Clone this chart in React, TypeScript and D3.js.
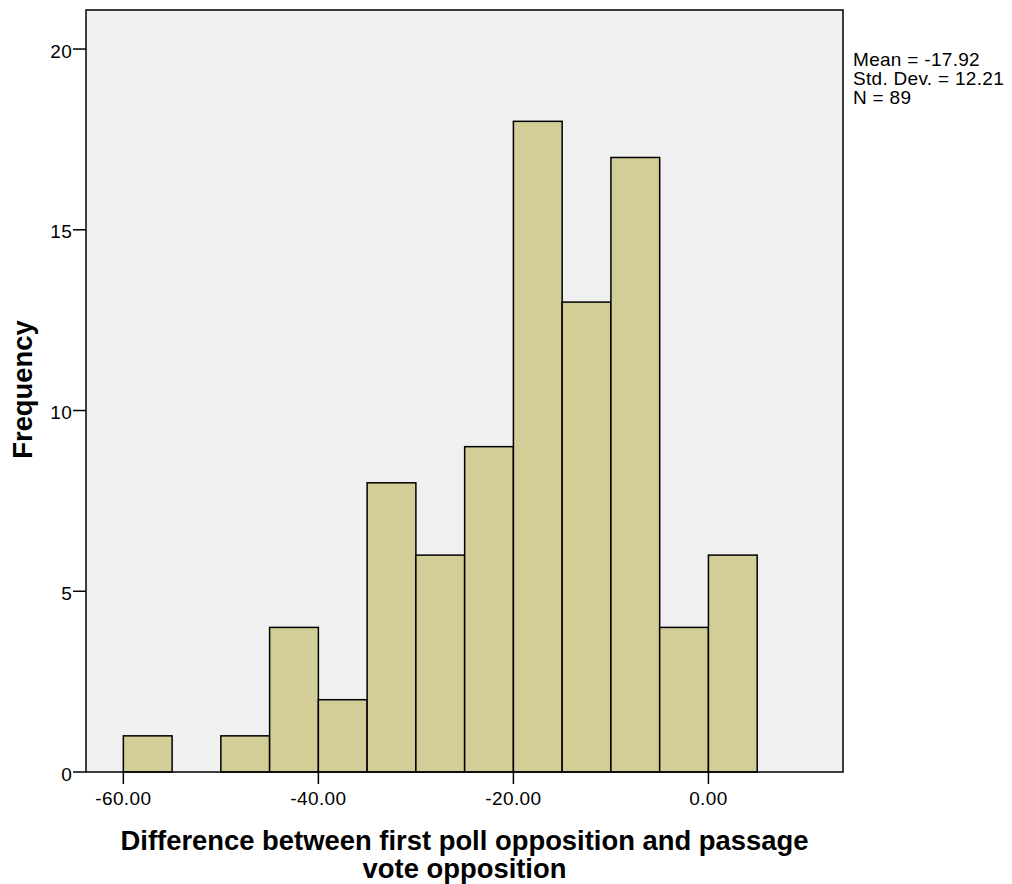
import React from 'react';
import * as d3 from 'd3';

// histogram bins: lower edge and frequency
const binStarts = [-60, -55, -50, -45, -40, -35, -30, -25, -20, -15, -10, -5, 0];
const counts = [1, 0, 1, 4, 2, 8, 6, 9, 18, 13, 17, 4, 6];
const binWidth = 5;
const xTicks = [-60, -40, -20, 0];
const yTicks = [0, 5, 10, 15, 20];
const statLines = ['Mean = -17.92', 'Std. Dev. = 12.21', 'N = 89'];
const xTitle = ['Difference between first poll opposition and passage', 'vote opposition'];
const yTitle = 'Frequency';

const width = 1012;
const height = 884;
const plot = { left: 86, top: 10, right: 843, bottom: 772 };
const font = 'Arial, "Liberation Sans", sans-serif';

export default function App() {
  const xScale = d3.scaleLinear().domain([-63.83, 13.8]).range([plot.left, plot.right]);
  const yScale = d3.scaleLinear().domain([0, 21.08]).range([plot.bottom, plot.top]);

  const bars = binStarts
    .map((b, i) => ({ x0: b, x1: b + binWidth, n: counts[i] }))
    .filter(d => d.n > 0);

  return (
    <svg width={width} height={height} style={{ display: 'block', position: 'absolute', left: 0, top: 0 }}>
      <rect x={0} y={0} width={width} height={height} fill="#fff" />
      <rect
        x={plot.left}
        y={plot.top}
        width={plot.right - plot.left}
        height={plot.bottom - plot.top}
        fill="#f0f0f0"
      />
      <g>
        {bars.map(d => (
          <rect
            key={d.x0}
            x={xScale(d.x0)}
            y={yScale(d.n)}
            width={xScale(d.x1) - xScale(d.x0)}
            height={yScale(0) - yScale(d.n)}
            fill="#d3ce98"
            stroke="#000"
            strokeWidth={1.5}
          />
        ))}
      </g>
      <rect
        x={plot.left}
        y={plot.top}
        width={plot.right - plot.left}
        height={plot.bottom - plot.top}
        fill="none"
        stroke="#000"
        strokeWidth={1.5}
      />
      {/* y axis */}
      <g fontFamily={font} fontSize={19} fill="#000">
        {yTicks.map(t => (
          <g key={t}>
            <line x1={plot.left - 13} x2={plot.left} y1={yScale(t)} y2={yScale(t)} stroke="#000" strokeWidth={1.5} />
            <text x={plot.left - 14} y={yScale(t) + 8.5} textAnchor="end" letterSpacing={0.3}>{t}</text>
          </g>
        ))}
      </g>
      {/* x axis */}
      <g fontFamily={font} fontSize={19} fill="#000">
        {xTicks.map(t => (
          <g key={t}>
            <line x1={xScale(t)} x2={xScale(t)} y1={plot.bottom} y2={plot.bottom + 12} stroke="#000" strokeWidth={1.5} />
            <text x={xScale(t)} y={805} textAnchor="middle" letterSpacing={0.4}>{t.toFixed(2)}</text>
          </g>
        ))}
      </g>
      <g fontFamily={font} fontSize={27.4} fontWeight="bold" fill="#000" textAnchor="middle">
        {xTitle.map((line, i) => (
          <text key={i} x={464.5} y={850 + i * 28}>{line}</text>
        ))}
        <text transform={`translate(32,${389.5}) rotate(-90)`}>{yTitle}</text>
      </g>
      <g fontFamily={font} fontSize={19} fill="#000">
        {statLines.map((s, i) => (
          <text key={i} x={853} y={66 + i * 19} letterSpacing={0.3}>{s}</text>
        ))}
      </g>
    </svg>
  );
}
